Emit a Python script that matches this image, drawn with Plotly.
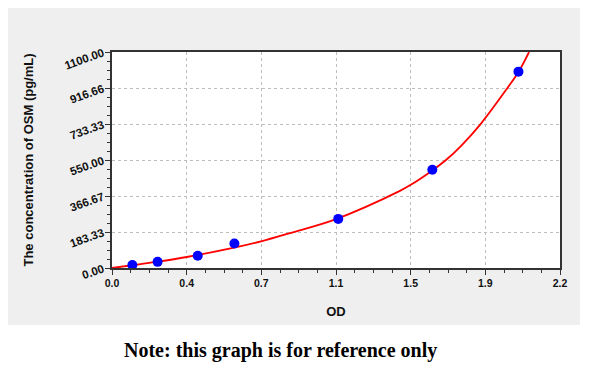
import plotly.graph_objects as go

# Standard points (OD vs concentration)
od_points = [0.100, 0.224, 0.421, 0.601, 1.111, 1.573, 1.996]
conc_points = [15.6, 31.25, 62.5, 125.0, 250.0, 500.0, 1000.0]

# Fitted curve
od_curve = [0, 0.1, 0.224, 0.367, 0.6, 0.732, 0.874, 1.097, 1.414, 1.463, 1.573, 1.64, 1.717, 1.81, 1.942, 1.996, 2.048]
conc_curve = [0, 14, 32, 56, 104, 136, 178, 248, 393, 421, 497, 550, 625, 733, 917, 998, 1100]

x_tick_labels = ["0.0", "0.4", "0.7", "1.1", "1.5", "1.9", "2.2"]
y_tick_labels = ["0.00", "183.33", "366.67", "550.00", "733.33", "916.66", "1100.00"]

x_max = 2.2
y_max = 1100.0
x_tickvals = [i * x_max / 6 for i in range(7)]
y_tickvals = [i * y_max / 6 for i in range(7)]

fig = go.Figure()
fig.add_trace(go.Scatter(x=od_curve, y=conc_curve, mode="lines",
                         line=dict(color="#ff0000", width=1.8, shape="spline", smoothing=1.0),
                         hoverinfo="skip", showlegend=False))
fig.add_trace(go.Scatter(x=od_points, y=conc_points, mode="markers",
                         marker=dict(color="#0000ff", size=10, line=dict(width=0)),
                         showlegend=False))

x_font = dict(family="Liberation Sans, Arial, sans-serif", size=10.5, color="#111111", weight="bold")
y_font = dict(family="Liberation Sans, Arial, sans-serif", size=11.5, color="#111111", weight="bold")
title_font = dict(family="Liberation Sans, Arial, sans-serif", size=13, color="#111111", weight="bold")

fig.update_xaxes(range=[0, x_max], tickvals=x_tickvals, ticktext=x_tick_labels,
                 tickfont=x_font, ticks="outside", ticklen=5, tickcolor="#333333",
                 showline=True, linecolor="#333333", linewidth=1.5, mirror=True,
                 showgrid=True, gridcolor="#bdbdbd", griddash="dot", gridwidth=1,
                 zeroline=False, automargin=False,
                 minor=dict(ticks="outside", ticklen=3, dtick=x_max / 24, tick0=0,
                            tickcolor="#333333", showgrid=False),
                 title=dict(text="OD", font=title_font, standoff=19))
fig.update_yaxes(range=[0, y_max], tickvals=y_tickvals, ticktext=y_tick_labels,
                 tickfont=y_font, tickangle=-20, ticks="outside", ticklen=5, tickcolor="#333333",
                 showline=True, linecolor="#333333", linewidth=1.5, mirror=True,
                 showgrid=True, gridcolor="#bdbdbd", griddash="dot", gridwidth=1,
                 zeroline=False, automargin=False,
                 minor=dict(ticks="outside", ticklen=3, dtick=y_max / 24, tick0=0,
                            tickcolor="#333333", showgrid=False),
                 title=dict(text="The concentration of OSM (pg/mL)", font=title_font, standoff=26))

# Page body adds an 8px offset; plot area in figure coords: x 104..552, y 44..260
L, T, W, H = 104, 44, 448, 216
B = T + H

# Gray panel behind the chart, white plot area on top of it
fig.add_shape(type="rect", xref="paper", yref="paper",
              x0=(-2 - L) / W, x1=(572 - L) / W,
              y0=(B - 317) / H, y1=(B + 5) / H,
              fillcolor="#efefef", line=dict(width=0), layer="below")
fig.add_shape(type="rect", xref="paper", yref="paper", x0=0, x1=1, y0=0, y1=1,
              fillcolor="#ffffff", line=dict(width=0), layer="below")

fig.add_annotation(text="Note: this graph is for reference only", xref="paper", yref="paper",
                   x=(272 - L) / W, y=(B - 342) / H, showarrow=False,
                   xanchor="center", yanchor="middle",
                   font=dict(family="Liberation Serif, DejaVu Serif, serif", size=20,
                             color="#000000", weight="bold"))

fig.update_layout(width=600, height=369,
                  margin=dict(l=L, r=600 - L - W, t=T, b=369 - B),
                  paper_bgcolor="#ffffff", plot_bgcolor="#ffffff")

fig.write_html("out.html")
